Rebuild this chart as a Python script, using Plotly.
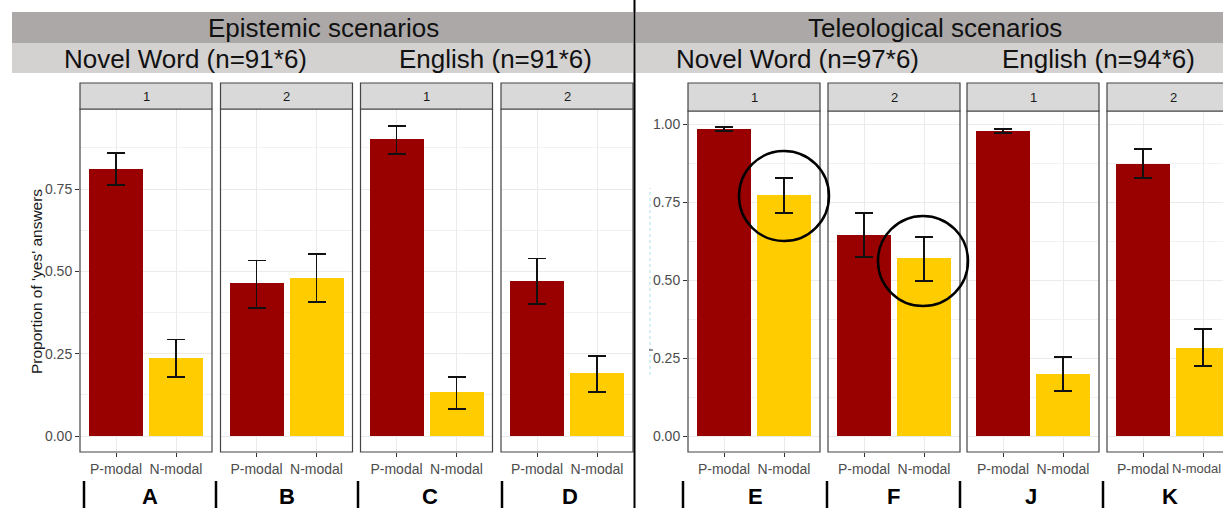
import plotly.graph_objects as go

W, H = 1223, 508

# ---- data -------------------------------------------------------------
panel_letters = ["A", "B", "C", "D", "E", "F", "J", "K"]
facet_labels = ["1", "2", "1", "2", "1", "2", "1", "2"]
categories = ["P-modal", "N-modal"]

p_modal = [0.811, 0.465, 0.902, 0.471, 0.984, 0.644, 0.978, 0.872]
p_hi = [0.859, 0.534, 0.941, 0.538, 0.990, 0.715, 0.984, 0.920]
p_lo = [0.762, 0.389, 0.856, 0.401, 0.978, 0.574, 0.971, 0.827]

n_modal = [0.237, 0.480, 0.134, 0.191, 0.772, 0.571, 0.199, 0.282]
n_hi = [0.292, 0.553, 0.179, 0.243, 0.827, 0.638, 0.253, 0.343]
n_lo = [0.179, 0.407, 0.082, 0.134, 0.715, 0.497, 0.144, 0.224]

group_titles = ["Epistemic scenarios", "Teleological scenarios"]
sub_titles = ["Novel Word (n=91*6)", "English (n=91*6)",
              "Novel Word (n=97*6)", "English (n=94*6)"]

bar_colors = ["#990000", "#FFCC00"]

# ---- layout geometry (pixels) ------------------------------------------
panel_left = [80, 220.5, 360.5, 501, 688, 828, 967, 1107]
panel_w = 132
strip_top = 83
strip_bottom = [109] * 4 + [111] * 4
panel_bottom = 452
unit_px = panel_w / 2.2

tick_font = dict(family="Liberation Sans", size=14, color="#4D4D4D")


def px(x):
    return x / W


def py(y):
    return 1 - y / H


fig = go.Figure()
shapes = []
annotations = []
layout = {}

for i in range(8):
    ax = "" if i == 0 else str(i + 1)
    x0 = panel_left[i]
    x1 = min(x0 + panel_w, W)
    clipped = x1 < x0 + panel_w
    xr_hi = 0.4 + (x1 - x0) / unit_px
    left_group = i < 4
    y_hi = 0.993 if left_group else 1.0417
    y_lo = -0.0486 if left_group else -0.0513
    show_y = i in (0, 4)

    fig.add_trace(go.Bar(
        x=[1, 2], y=[p_modal[i], n_modal[i]],
        width=0.9,
        marker=dict(color=bar_colors, line=dict(width=0)),
        error_y=dict(type="data", symmetric=False,
                     array=[p_hi[i] - p_modal[i], n_hi[i] - n_modal[i]],
                     arrayminus=[p_modal[i] - p_lo[i], n_modal[i] - n_lo[i]],
                     color="#111111", thickness=1.3, width=9),
        xaxis="x" + ax, yaxis="y" + ax, showlegend=False,
    ))

    # the last panel runs off the right edge: its second label is pinned
    # to the right border so the page keeps its width
    ticktext = [categories[0], ""] if clipped else categories
    layout["xaxis" + ax] = dict(
        domain=[px(x0), px(x1)], range=[0.4, xr_hi], anchor="y" + ax,
        tickmode="array", tickvals=[1, 2], ticktext=ticktext,
        ticks="outside", ticklen=4, tickcolor="#333333", tickwidth=1,
        tickfont=tick_font,
        showgrid=True, gridcolor="#EBEBEB", gridwidth=1,
        zeroline=False, showline=False, fixedrange=True,
    )
    if clipped:
        annotations.append(dict(text=categories[1], xref="paper",
                                yref="paper", x=1, y=py(468),
                                xanchor="right", yanchor="middle",
                                showarrow=False,
                                font=dict(tick_font, size=13)))
    layout["yaxis" + ax] = dict(
        domain=[py(panel_bottom), py(strip_bottom[i])], range=[y_lo, y_hi],
        anchor="x" + ax,
        tickmode="linear", tick0=0, dtick=0.25, tickformat=".2f",
        showticklabels=show_y, ticks="outside" if show_y else "",
        ticklen=4, tickcolor="#333333", tickfont=tick_font,
        showgrid=True, gridcolor="#EBEBEB", gridwidth=1,
        minor=dict(dtick=0.125, tick0=0, showgrid=True,
                   gridcolor="#F2F2F2", gridwidth=0.6),
        zeroline=False, showline=False, fixedrange=True,
    )

    # panel frame
    shapes.append(dict(type="rect", xref="paper", yref="paper",
                       x0=px(x0), x1=px(x0 + panel_w),
                       y0=py(panel_bottom), y1=py(strip_bottom[i]),
                       line=dict(color="#444444", width=1.2), layer="above"))
    # facet strip
    shapes.append(dict(type="rect", xref="paper", yref="paper",
                       x0=px(x0), x1=px(x0 + panel_w),
                       y0=py(strip_bottom[i]), y1=py(strip_top),
                       fillcolor="#D9D9D9",
                       line=dict(color="#444444", width=1.2)))
    annotations.append(dict(text=facet_labels[i], xref="paper", yref="paper",
                            x=px(x0 + panel_w / 2),
                            y=py((strip_top + strip_bottom[i]) / 2),
                            showarrow=False, xanchor="center", yanchor="middle",
                            font=dict(family="Liberation Sans", size=13,
                                      color="#1A1A1A")))

# y-axis title on the first panel
annotations.append(dict(text="Proportion of 'yes' answers", xref="paper",
                        yref="paper", x=px(36), y=py(282), textangle=-90,
                        showarrow=False, xanchor="center", yanchor="middle",
                        font=dict(family="Liberation Sans", size=15.5,
                                  color="#1A1A1A")))

# ---- group header bands -------------------------------------------------
band_x = [(12, 633), (636, W)]
for g, (bx0, bx1) in enumerate(band_x):
    shapes.append(dict(type="rect", xref="paper", yref="paper", layer="below",
                       x0=px(bx0), x1=px(bx1), y0=py(43), y1=py(12),
                       fillcolor="#ABA8A7", line=dict(width=0)))
    shapes.append(dict(type="rect", xref="paper", yref="paper", layer="below",
                       x0=px(bx0), x1=px(bx1), y0=py(73), y1=py(43),
                       fillcolor="#D4D2D1", line=dict(width=0)))

group_cx = [323, 935]
for g in range(2):
    annotations.append(dict(text=group_titles[g], xref="paper", yref="paper",
                            x=px(group_cx[g]), y=py(28), showarrow=False,
                            xanchor="center", yanchor="middle",
                            font=dict(family="Liberation Sans", size=26,
                                      color="#111111")))

sub_cx = [185, 495, 797, 1098]
for s in range(4):
    annotations.append(dict(text=sub_titles[s], xref="paper", yref="paper",
                            x=px(sub_cx[s]), y=py(59), showarrow=False,
                            xanchor="center", yanchor="middle",
                            font=dict(family="Liberation Sans", size=26,
                                      color="#111111")))

# separator between the two scenario groups
shapes.append(dict(type="line", xref="paper", yref="paper",
                   x0=px(634.5), x1=px(634.5), y0=0, y1=1,
                   line=dict(color="#000000", width=2)))

# faint dotted guide beside the second y axis
shapes.append(dict(type="line", xref="paper", yref="paper",
                   x0=px(650), x1=px(650), y0=py(375), y1=py(188),
                   line=dict(color="#A8E4EC", width=1, dash="dot")))
shapes.append(dict(type="line", xref="paper", yref="paper",
                   x0=px(649), x1=px(653), y0=py(350), y1=py(350),
                   line=dict(color="#333333", width=1)))

# highlight circles around the N-modal error bars in E and F
circles = [(784, 196, 45), (923, 261, 45)]
for cx, cy, r in circles:
    shapes.append(dict(type="circle", xref="paper", yref="paper",
                       x0=px(cx - r), x1=px(cx + r), y0=py(cy + r), y1=py(cy - r),
                       line=dict(color="#000000", width=2.5), layer="above"))

# panel letters with dividers underneath
divider_x = [84, 216, 358, 502, 683, 827, 960, 1103]
letter_x = [150, 287, 430, 570, 755, 893, 1031, 1170]
for i in range(8):
    shapes.append(dict(type="line", xref="paper", yref="paper",
                       x0=px(divider_x[i]), x1=px(divider_x[i]),
                       y0=py(508), y1=py(481),
                       line=dict(color="#000000", width=2.5)))
    annotations.append(dict(text="<b>%s</b>" % panel_letters[i], xref="paper",
                            yref="paper", x=px(letter_x[i]), y=py(496),
                            showarrow=False, xanchor="center", yanchor="middle",
                            font=dict(family="Liberation Sans", size=22,
                                      color="#000000")))

fig.update_layout(
    width=W, height=H,
    margin=dict(l=0, r=0, t=0, b=0),
    paper_bgcolor="white", plot_bgcolor="white",
    bargap=0, shapes=shapes, annotations=annotations,
    **layout,
)

fig.write_html("out.html", config={"displayModeBar": False})
